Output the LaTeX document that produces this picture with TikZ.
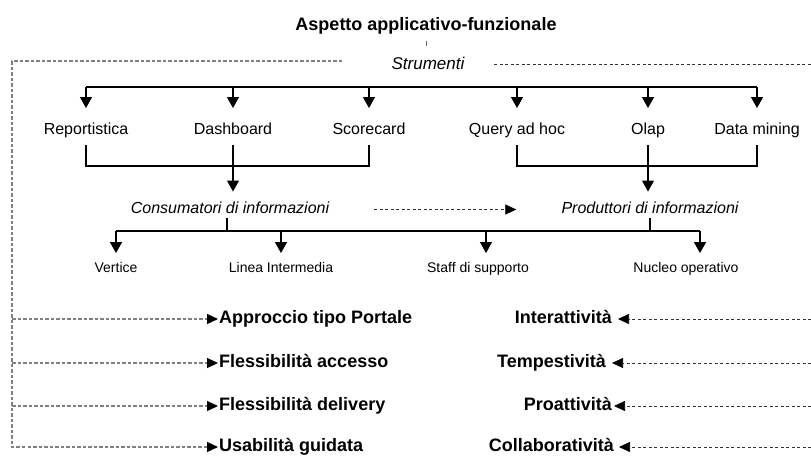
\documentclass[tikz,border=0pt]{standalone}
\usepackage{fontspec}
\setmainfont{Liberation Sans}
\usetikzlibrary{arrows.meta, calc}

\begin{document}
\begin{tikzpicture}[x=1pt, y=-1pt,
  every node/.style={inner sep=1pt},
  tool/.style={font=\fontsize{16}{18}\selectfont, text height=12pt, text depth=3.5pt},
  role/.style={font=\itshape\fontsize{16}{18}\selectfont, text height=12pt, text depth=3.5pt},
  unit/.style={font=\fontsize{14}{16}\selectfont, text height=10.5pt, text depth=3pt},
  item/.style={font=\bfseries\fontsize{18}{20}\selectfont, text height=13.5pt, text depth=4pt},
  wire/.style={draw=black, line width=1.1pt},
  arr/.style={wire, -{Triangle[length=11pt,width=12pt]}},
  darr/.style={-{Triangle[length=11pt,width=10pt,color=black]}},
  gdash/.style={draw=black!50, line width=1.2pt, dash pattern=on 3.5pt off 2pt},
  kdash/.style={draw=black!80, line width=0.7pt, dash pattern=on 3pt off 2.5pt}]
  \useasboundingbox (0,0) rectangle (811,466);

  % Heading
  \node[item] (ttl) at (426,26) {Aspetto applicativo-funzionale};
  \node[role, font=\itshape\fontsize{17}{19}\selectfont] (strum) at (428,65) {Strumenti};
  \draw[black!60, line width=0.7pt] (ttl.south) ++(0,5.5) -- ++(0,5);

  % Tools
  \coordinate (busT) at (0,87);
  \foreach \n/\x/\t in {rep/86/Reportistica, dshb/233/Dashboard, score/369/Scorecard,
                        qry/517/Query ad hoc, olap/648/Olap, dm/757/Data mining}
    \node[tool] (\n) at (\x,130) {\t};
  \draw[wire] (rep.north |- busT) -- (dm.north |- busT);
  \foreach \n in {rep,dshb,score,qry,olap,dm}
    \draw[arr, shorten >=13pt] (\n.north |- busT) -- (\n.north);

  % Consumers and producers
  \node[role] (cons) at (230,209.5) {Consumatori di informazioni};
  \node[role] (prod) at (650,209.5) {Produttori di informazioni};
  \coordinate (brk) at (0,166);
  \draw[wire] ([yshift=-6pt]rep.south) -- (rep.south |- brk) -- (score.south |- brk) -- ([yshift=-6pt]score.south);
  \draw[wire] ([yshift=-6pt]qry.south) -- (qry.south |- brk) -- (dm.south |- brk) -- ([yshift=-6pt]dm.south);
  \draw[arr, shorten >=9pt] ([yshift=-6pt]dshb.south) -- (dshb.south |- cons.north);
  \draw[arr, shorten >=9pt] ([yshift=-6pt]olap.south) -- (olap.south |- prod.north);
  \draw[kdash, darr, shorten <=44pt, shorten >=44pt] (cons.east) -- (prod.west);

  % Organisation units
  \coordinate (busB) at (0,231);
  \node[unit] (vert)  at (116,269) {Vertice};
  \node[unit] (linea) at (281,269) {Linea Intermedia};
  \node[unit] (staff) at (478,269) {Staff di supporto};
  \node[unit] (nucl)  at (686,269) {Nucleo operativo};
  \draw[wire] ([xshift=-3pt]cons.south) -- ([xshift=-3pt]cons.south |- busB);
  \draw[wire] (prod.south) -- (prod.south |- busB);
  \draw[wire] (vert.north |- busB) -- ([xshift=14pt]nucl.north |- busB);
  \foreach \n/\s in {vert/0, linea/0, staff/8, nucl/14}
    \draw[arr, shorten >=8pt] ([xshift=\s pt]\n.north |- busB) -- ([xshift=\s pt]\n.north);

  % Left: portal features
  \node[item, anchor=west] (appr)  at (218,319) {Approccio tipo Portale};
  \node[item, anchor=west] (flacc) at (218,363) {Flessibilità accesso};
  \node[item, anchor=west] (fldel) at (218,406) {Flessibilità delivery};
  \node[item, anchor=west] (usab)  at (218,447) {Usabilità guidata};
  \coordinate (tl) at (12,61);
  \coordinate (tlend) at (342,61);
  \draw[gdash, darr] (tlend) -- (tl) -- (tl |- usab.west) -- (usab.west);
  \foreach \n in {appr,flacc,fldel}
    \draw[gdash, darr] (tl |- \n.west) -- (\n.west);

  % Right: interaction features
  \node[item, anchor=east] (inter)  at (613,319) {Interattività};
  \node[item, anchor=east] (temp)   at (607,363) {Tempestività};
  \node[item, anchor=east] (proat)  at (613,406) {Proattività};
  \node[item, anchor=east] (collab) at (615,447) {Collaboratività};
  \coordinate (tr) at (811,64);
  \coordinate (trstart) at (494,64);
  \draw[kdash] (trstart) -- (tr);
  \foreach \n/\g in {inter/5, temp/5, proat/1, collab/4}
    \draw[kdash, darr, shorten >=\g pt] (\n.east -| tr) -- (\n.east);
\end{tikzpicture}
\end{document}
